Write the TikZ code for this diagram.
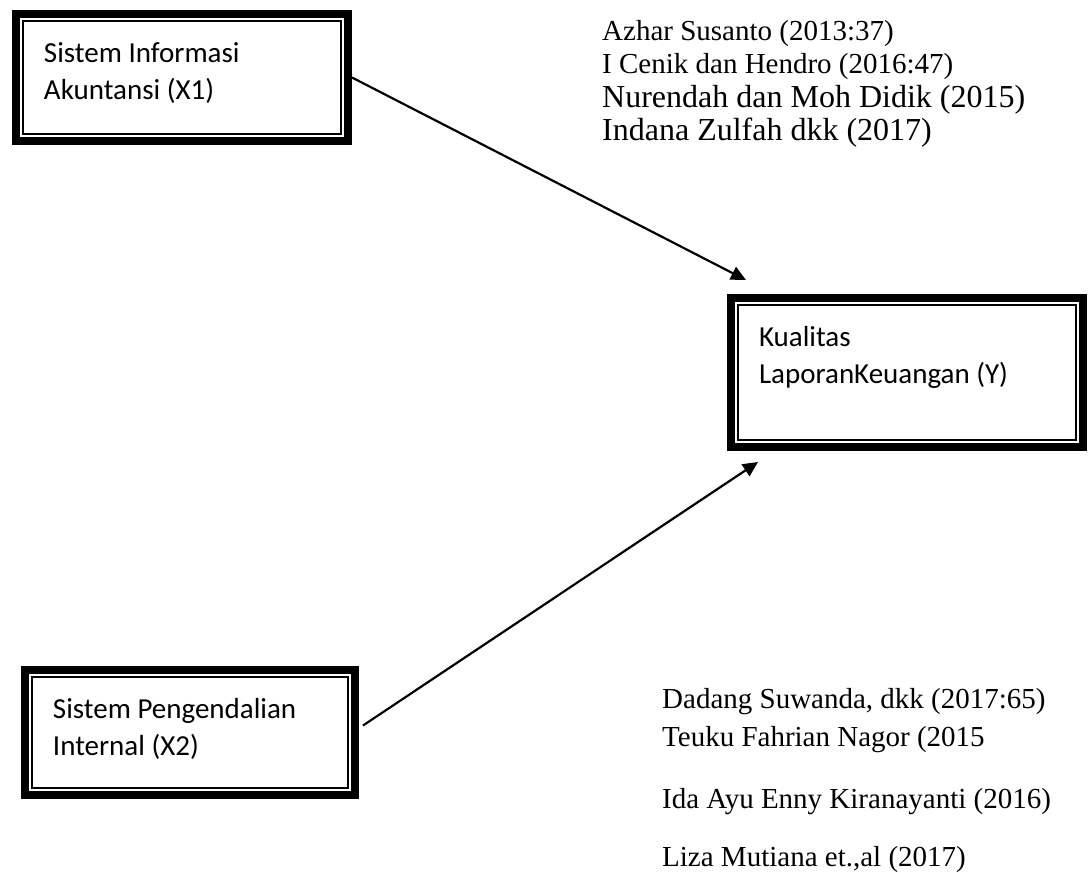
\documentclass[tikz,border=0pt]{standalone}
\usepackage{fontspec}
\setmainfont{Liberation Serif}
\newfontfamily\boxfont{Carlito}
\usetikzlibrary{arrows.meta,positioning}

\newcommand{\boxtxt}[3]{\parbox[c][#2pt][t]{#1pt}{\boxfont\fontsize{29}{37}\selectfont\raggedright\leftskip=28pt\rule{0pt}{48pt}#3}}

\begin{document}
\begin{tikzpicture}[
    x=1pt, y=-1pt,
    varbox/.style={rectangle, draw, line width=8pt, inner sep=0pt, anchor=north west,
        path picture={\draw[line width=2pt] ([shift={(7pt,-7pt)}]path picture bounding box.north west) rectangle ([shift={(-7pt,7pt)}]path picture bounding box.south east);}},
    ref/.style={inner sep=0pt, align=left, font=\fontsize{29}{33.5}\selectfont},
    arrow/.style={-{Triangle[length=15pt,width=14pt]}, line width=2.2pt}
]
\useasboundingbox (0,0) rectangle (1088,873);

% Variables
\node[varbox] (x1) at (12,10) {\boxtxt{332}{127}{Sistem Informasi\\Akuntansi (X1)}};
\node[varbox, below right=149pt and 375pt of x1] (y) {\boxtxt{352}{149}{Kualitas\\LaporanKeuangan (Y)}};
\node[varbox, below=521pt of x1.south west, anchor=north west, xshift=9pt] (x2) {\boxtxt{330}{125}{Sistem Pengendalian\\Internal (X2)}};

% References
\node[ref, right=250pt of x1.north east, anchor=north west] (refa) {\rule{0pt}{30pt}Azhar Susanto (2013:37)\\I Cenik dan Hendro (2016:47)\\{\fontsize{32}{35}\selectfont Nurendah dan Moh Didik (2015)}\\{\fontsize{32}{35}\selectfont Indana Zulfah dkk (2017)}};
\node[ref, below=229pt of y.south west, anchor=north west, xshift=-65pt] (refb) {\rule{0pt}{28pt}Dadang Suwanda, dkk (2017:65)\\[4.5pt]Teuku Fahrian Nagor (2015\\[28.5pt]Ida Ayu Enny Kiranayanti (2016)\\[24.5pt]Liza Mutiana et.,al (2017)};

% Arrows
\draw[arrow] (x1.east) -- ([shift={(19pt,14pt)}]y.north west);
\draw[arrow] ([shift={(4pt,7pt)}]x2.east) -- ([shift={(31pt,-11pt)}]y.south west);

\end{tikzpicture}
\end{document}
